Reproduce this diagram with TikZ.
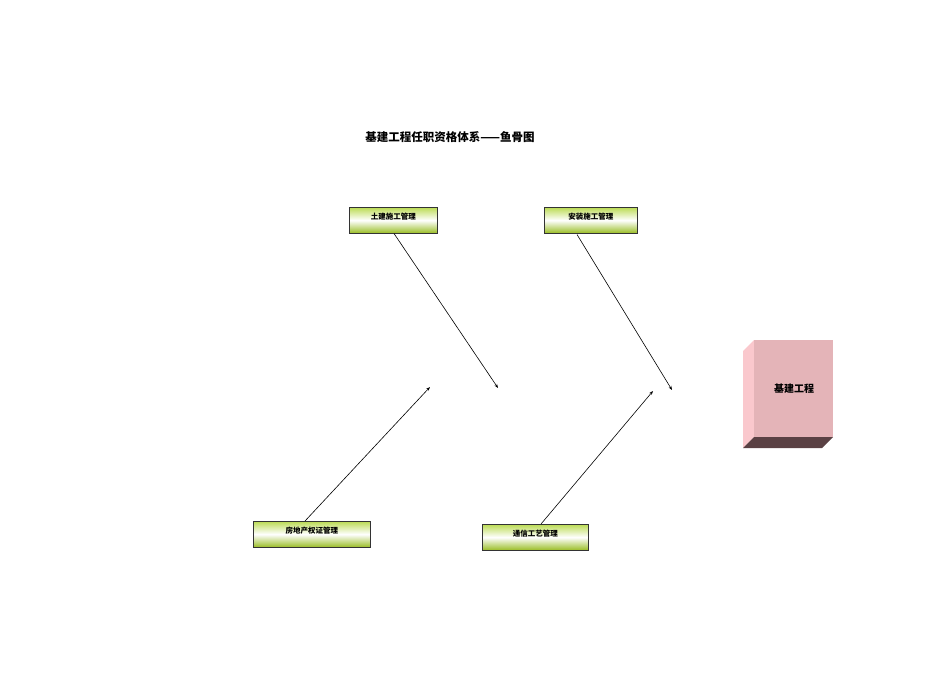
\documentclass[tikz,border=0pt]{standalone}
\usepackage{fontspec}
\newfontfamily\cjk{Noto Sans CJK SC}
\usetikzlibrary{arrows.meta}
\definecolor{lg}{RGB}{170,210,40}
\definecolor{pinkf}{RGB}{228,180,184}
\definecolor{pinks}{RGB}{250,200,205}
\definecolor{brownb}{RGB}{90,65,68}
\tikzset{
 cat/.style={draw=black!80,line width=0.5pt,shade,top color=lg!80,bottom color=lg!90!black,middle color=white,
   font=\cjk\bfseries\fontsize{7.5}{9}\selectfont,inner sep=0pt,anchor=north west},
 bone/.style={line width=0.6pt,-{Stealth[length=4pt,width=3pt]}}
}
\begin{document}
\begin{tikzpicture}[x=1pt,y=-1pt]
\useasboundingbox (0,0) rectangle (950,672);
\node[font=\cjk\bfseries\fontsize{11.5}{13}\selectfont] (title) at (450,137) {基建工程任职资格体系——鱼骨图};
\node[cat,minimum width=88pt,minimum height=26pt] (a) at (349,207) {\raisebox{8pt}{土建施工管理}};
\node[cat,minimum width=93pt,minimum height=26pt] (b) at (544,207) {\raisebox{8pt}{安装施工管理}};
\node[cat,minimum width=117pt,minimum height=26pt] (c) at (253,521) {\raisebox{8pt}{房地产权证管理}};
\node[cat,minimum width=106pt,minimum height=26pt] (d) at (482,524) {\raisebox{8pt}{通信工艺管理}};
\coordinate (ae) at (498,388);
\coordinate (be) at (672,390);
\coordinate (ce) at (430,387);
\coordinate (de) at (653,391);
\draw[bone] (a.south west)++(45,0) -- (ae);
\draw[bone] (b.south west)++(33,1) -- (be);
\draw[bone] (c.north west)++(52,0) -- (ce);
\draw[bone] (d.north west)++(59,0) -- (de);
% cube
\fill[pinks] (743,351) -- (754,340) -- (754,437) -- (743,448) -- cycle;
\fill[brownb] (743,448) -- (754,437) -- (833,437) -- (822,448) -- cycle;
\fill[pinkf] (754,340) rectangle (833,437);
\node[font=\cjk\bfseries\fontsize{10}{12}\selectfont] (box) at (794,389) {基建工程};
\end{tikzpicture}
\end{document}
